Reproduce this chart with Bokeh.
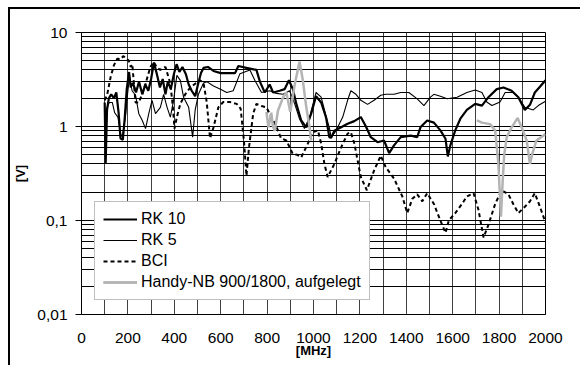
from bokeh.plotting import figure
from bokeh.models import FixedTicker, CustomJSTickFormatter
from bokeh.embed import file_html
from bokeh.resources import INLINE

# ---------------- data ----------------
rk10_f = [100, 104, 110, 118, 128, 140, 150, 160, 168, 178, 186, 195, 205, 212, 222, 235, 248,
          262, 275, 288, 300, 312, 325, 338, 350, 362, 372, 385, 398, 410, 422, 435, 450, 462,
          475, 490, 502, 515, 526, 545, 569, 600, 640, 662, 676, 711, 754, 769, 790, 811, 826,
          854, 876, 894, 911, 926, 947, 969, 990, 1011, 1033, 1054, 1068, 1076, 1090, 1119,
          1147, 1176, 1204, 1226, 1247, 1276, 1304, 1326, 1347, 1376, 1419, 1447, 1461, 1490,
          1519, 1547, 1569, 1579, 1590, 1611, 1633, 1661, 1697, 1726, 1754, 1790, 1819, 1854,
          1883, 1911, 1933, 1954, 1976, 2000]
rk10_v = [1.8, 0.4, 1.5, 2.0, 2.2, 2.0, 2.3, 1.4, 0.75, 0.72, 1.2, 2.5, 3.8, 2.6, 2.9, 2.3, 3.0,
          2.2, 2.8, 2.4, 3.2, 4.8, 3.6, 2.6, 3.2, 2.2, 3.0, 2.5, 3.6, 4.6, 3.8, 4.3, 3.6, 2.8,
          2.4, 2.1, 2.8, 3.7, 4.2, 4.3, 3.9, 3.7, 3.7, 3.7, 4.4, 4.2, 4.0, 3.0, 2.3, 2.8, 2.3,
          2.4, 2.5, 3.1, 2.5, 1.74, 1.16, 0.98, 1.37, 2.1, 1.8, 1.25, 0.77, 0.76, 0.9, 0.98,
          1.07, 1.14, 1.26, 1.0, 0.77, 0.68, 0.71, 0.52, 0.63, 0.77, 0.8, 0.77, 0.98, 1.16,
          1.1, 0.91, 0.74, 0.48, 0.63, 0.91, 1.21, 1.5, 1.74, 1.67, 2.05, 2.5, 2.6, 2.4,
          2.05, 1.5, 1.7, 2.3, 2.65, 3.1]

rk5_f = [100, 104, 110, 120, 133, 143, 157, 168, 176, 190, 197, 207, 218, 233, 247, 262, 276,
         290, 304, 319, 340, 354, 369, 383, 397, 411, 426, 440, 462, 479, 490, 504, 526, 540,
         569, 597, 626, 654, 683, 726, 747, 776, 811, 840, 869, 897, 919, 940, 961, 983,
         1011, 1033, 1054, 1068, 1076, 1097, 1126, 1147, 1161, 1183, 1204, 1233, 1261, 1290,
         1311, 1347, 1376, 1411, 1447, 1476, 1504, 1519, 1547, 1576, 1619, 1661, 1697, 1726,
         1747, 1769, 1804, 1826, 1861, 1883, 1911, 1947, 1969, 2000]
rk5_v = [1.2, 0.6, 1.6, 1.8, 1.8, 1.4, 1.26, 0.85, 0.77, 1.3, 2.05, 3.4, 2.4, 2.15, 1.37, 1.16,
         0.95, 1.37, 1.9, 1.37, 1.6, 2.2, 1.6, 1.26, 1.9, 3.5, 3.1, 2.05, 1.6, 0.77, 1.5, 2.2,
         2.9, 3.0, 2.7, 2.5, 2.3, 2.4, 3.65, 4.0, 3.1, 2.3, 2.4, 2.25, 2.2, 2.4, 1.74, 1.2,
         0.95, 1.25, 2.3, 2.05, 1.3, 0.98, 0.77, 0.9, 1.26, 1.9, 2.4, 2.2, 1.9, 1.72, 1.9,
         2.15, 2.2, 2.2, 2.3, 2.3, 1.97, 1.67, 2.05, 2.2, 2.1, 1.97, 2.05, 2.3, 2.45, 2.3,
         1.82, 1.67, 1.82, 2.3, 2.3, 2.05, 1.6, 1.5, 1.67, 1.86]

bci_f = [100, 111, 126, 140, 154, 169, 180, 190, 204, 212, 219, 226, 233, 247, 261, 276, 297,
         311, 326, 340, 362, 383, 394, 401, 411, 426, 447, 469, 490, 511, 526, 540, 554, 569,
         590, 611, 640, 669, 686, 700, 711, 722, 740, 754, 776, 797, 811, 840, 860, 883, 911,
         930, 947, 976, 997, 1019, 1033, 1047, 1061, 1090, 1119, 1147, 1161, 1176, 1204,
         1230, 1261, 1290, 1311, 1347, 1383, 1404, 1426, 1447, 1469, 1490, 1519, 1547, 1569,
         1583, 1611, 1640, 1661, 1690, 1711, 1733, 1754, 1783, 1811, 1840, 1861, 1883, 1911,
         1933, 1954, 1976, 2000]
bci_v = [1.9, 2.2, 3.4, 4.5, 5.25, 5.2, 5.6, 5.4, 5.0, 4.3, 4.6, 2.85, 1.8, 1.8, 2.2, 2.85, 4.3,
         4.85, 4.2, 4.0, 4.3, 2.85, 1.6, 0.95, 1.26, 1.74, 2.2, 2.6, 2.85, 3.1, 2.9, 1.8, 0.75,
         0.98, 1.6, 1.82, 1.82, 1.74, 1.55, 0.71, 0.3, 0.6, 1.37, 1.74, 1.65, 1.6, 1.37, 1.0,
         0.75, 0.71, 0.51, 0.5, 0.47, 0.66, 0.87, 0.91, 0.66, 0.4, 0.29, 0.4, 0.6, 0.84, 0.87,
         0.66, 0.29, 0.21, 0.34, 0.49, 0.37, 0.28, 0.18, 0.12, 0.17, 0.19, 0.16, 0.195, 0.15,
         0.1, 0.074, 0.1, 0.12, 0.15, 0.18, 0.195, 0.13, 0.066, 0.09, 0.15, 0.21, 0.19, 0.15,
         0.12, 0.14, 0.16, 0.195, 0.14, 0.095]

handy1_f = [797, 806, 818, 825, 833, 847, 869, 883, 900, 919, 940, 954, 969, 983, 990]
handy1_v = [1.43, 0.98, 1.4, 1.0, 0.9, 1.48, 2.05, 2.3, 1.43, 2.8, 4.9, 3.1, 1.6, 0.98, 0.71]
handy2_f = [1704, 1726, 1761, 1783, 1797, 1801, 1808, 1815, 1822, 1833, 1854, 1880, 1897, 1919,
            1933, 1943, 1961, 2000]
handy2_v = [1.16, 1.1, 1.06, 0.91, 0.4, 0.245, 0.11, 0.25, 0.5, 0.77, 0.98, 1.23, 0.98, 0.71,
            0.4, 0.51, 0.71, 0.83]

x_ticks = [0, 200, 400, 600, 800, 1000, 1200, 1400, 1600, 1800, 2000]
x_grid = [100 * i for i in range(21)]
y_ticks = [0.01, 0.1, 1, 10]
y_minor = [m * d for d in (0.01, 0.1, 1) for m in range(2, 10)]

FONT = "Liberation Sans"

p = figure(width=572, height=358, x_range=(0, 2000), y_range=(0.01, 10),
           y_axis_type="log", output_backend="svg", toolbar_location=None,
           min_border_left=67, min_border_top=23, min_border_right=37,
           min_border_bottom=53, background_fill_color="white",
           border_fill_color="white")
p.styles = {"margin-left": "8px", "margin-top": "7px",
            "border-left": "2px solid black", "border-top": "2px solid black"}

p.outline_line_color = "black"
p.outline_line_width = 1

# x axis
p.xaxis.ticker = FixedTicker(ticks=x_ticks)
p.xaxis.major_tick_out = 0
p.xaxis.major_tick_in = 0
p.xaxis.minor_tick_out = 0
p.xaxis.minor_tick_in = 0
p.xaxis.major_label_standoff = 18
p.xaxis.axis_label = "[MHz]"
p.xaxis.axis_label_standoff = -3
p.xgrid.ticker = FixedTicker(ticks=x_grid)
p.xgrid.grid_line_color = "#404040"
p.xgrid.grid_line_width = 1

# y axis
yt = FixedTicker(ticks=y_ticks, minor_ticks=y_minor)
p.yaxis.ticker = yt
p.yaxis.formatter = CustomJSTickFormatter(code="return tick.toString().replace('.', ',');")
p.yaxis.major_tick_out = 6
p.yaxis.major_tick_in = 0
p.yaxis.minor_tick_out = 0
p.yaxis.minor_tick_in = 0
p.yaxis.major_label_standoff = 8
p.yaxis.axis_label = "[V]"
p.yaxis.axis_label_standoff = 6
p.ygrid.ticker = yt
p.ygrid.grid_line_color = "black"
p.ygrid.grid_line_width = 1
p.ygrid.minor_grid_line_color = "black"
p.ygrid.minor_grid_line_width = 1

for ax in (p.xaxis[0], p.yaxis[0]):
    ax.axis_line_color = "black"
    ax.major_tick_line_color = "black"
    ax.major_label_text_font = FONT
    ax.major_label_text_font_size = "15.5px"
    ax.major_label_text_color = "black"
    ax.axis_label_text_font = FONT
    ax.axis_label_text_font_size = "13px"
    ax.axis_label_text_font_style = "bold"
    ax.axis_label_text_color = "black"

# series
p.line(rk10_f, rk10_v, line_color="black", line_width=2.2, legend_label="RK 10")
p.line(rk5_f, rk5_v, line_color="black", line_width=1.1, legend_label="RK 5")
p.line(bci_f, bci_v, line_color="black", line_width=2, line_dash="4 3", legend_label="BCI")
p.line(handy1_f, handy1_v, line_color="#b4b4b4", line_width=2.5,
       legend_label="Handy-NB 900/1800, aufgelegt")
p.line(handy2_f, handy2_v, line_color="#b4b4b4", line_width=2.5,
       legend_label="Handy-NB 900/1800, aufgelegt")

lg = p.legend[0]
lg.location = (13, 14)
lg.margin = 0
lg.padding = 8
lg.spacing = 3
lg.label_height = 18
lg.glyph_height = 18
lg.glyph_width = 34
lg.label_standoff = 4
lg.label_text_font = FONT
lg.label_text_font_size = "16px"
lg.label_text_color = "black"
lg.border_line_color = "#808080"
lg.border_line_width = 1.5
lg.background_fill_color = "white"
lg.background_fill_alpha = 1.0

open("out.html", "w").write(file_html(p, INLINE))
